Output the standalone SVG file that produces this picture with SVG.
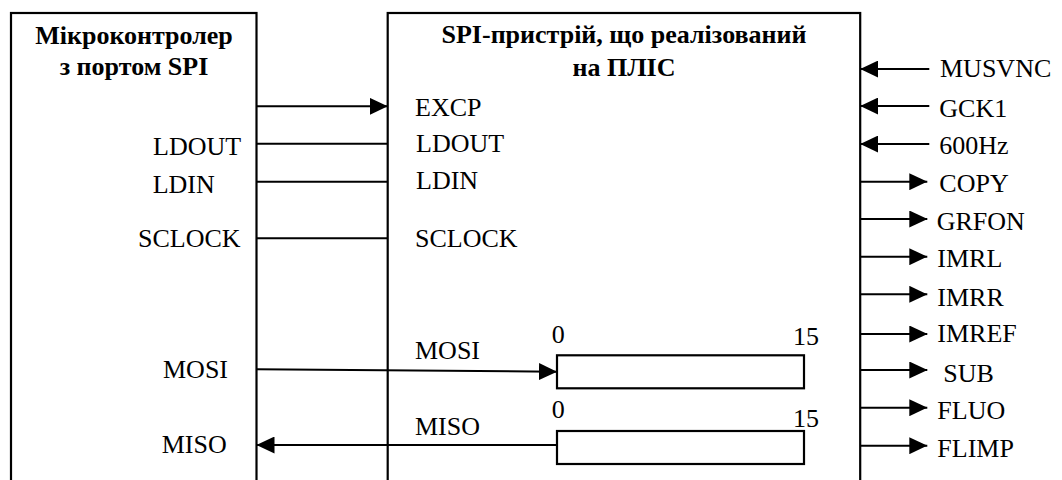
<svg xmlns="http://www.w3.org/2000/svg" width="1062" height="480" viewBox="0 0 1062 480">
<style>
.box{fill:#fff;stroke:#000;stroke-width:2.2}
.ln{fill:none;stroke:#000;stroke-width:2}
.t{font-family:"Liberation Serif","Times New Roman",serif;font-size:26px;fill:#000}
.b{font-family:"Liberation Serif","Times New Roman",serif;font-size:26px;font-weight:bold;fill:#000;text-anchor:middle}
</style>
<defs>
<marker id="ah" markerUnits="userSpaceOnUse" markerWidth="18" markerHeight="17" refX="18" refY="8.5" orient="auto">
<path d="M0,0 L18,8.5 L0,17 z" fill="#000"/>
</marker>
</defs>
<rect width="1062" height="480" fill="#fff"/>
<g id="microcontroller">
<rect class="box" x="11" y="13" width="245.5" height="480"/>
<text class="b" x="134" y="44">Мікроконтролер</text>
<text class="b" x="134" y="75">з портом SPI</text>
<text class="t" x="153" y="155">LDOUT</text>
<text class="t" x="152.7" y="192.5">LDIN</text>
<text class="t" x="138" y="247.3">SCLOCK</text>
<text class="t" x="163" y="378.3">MOSI</text>
<text class="t" x="161.7" y="453.3">MISO</text>
</g>
<g id="fpga">
<rect class="box" x="387.7" y="13" width="472.5" height="480"/>
<text class="b" x="624" y="43.3">SPI-пристрій, що реалізований</text>
<text class="b" x="624" y="76">на ПЛІС</text>
<text class="t" x="415" y="116">EXCP</text>
<text class="t" x="416" y="151.7">LDOUT</text>
<text class="t" x="416" y="189.3">LDIN</text>
<text class="t" x="415" y="247.3">SCLOCK</text>
<text class="t" x="415" y="359.3">MOSI</text>
<text class="t" x="415" y="435">MISO</text>
</g>
<g id="mosi-register">
<rect class="box" x="557" y="355.3" width="247" height="33"/>
<text class="t" x="551.7" y="343.3">0</text>
<text class="t" x="793" y="345">15</text>
</g>
<g id="miso-register">
<rect class="box" x="557" y="431" width="247" height="33"/>
<text class="t" x="551.7" y="418.3">0</text>
<text class="t" x="793" y="426.7">15</text>
</g>
<g id="connectors">
<line class="ln" x1="256.5" y1="106.3" x2="387.7" y2="106.3" marker-end="url(#ah)"/>
<line class="ln" x1="256.5" y1="143.7" x2="387.7" y2="143.7"/>
<line class="ln" x1="256.5" y1="181.7" x2="387.7" y2="181.7"/>
<line class="ln" x1="256.5" y1="238.3" x2="387.7" y2="238.3"/>
<line class="ln" x1="256.5" y1="369.3" x2="557" y2="371.7" marker-end="url(#ah)"/>
<line class="ln" x1="557" y1="445" x2="256.5" y2="445" marker-end="url(#ah)"/>
<line class="ln" x1="929.3" y1="69" x2="860.2" y2="69" marker-end="url(#ah)"/>
<line class="ln" x1="929.3" y1="106" x2="860.2" y2="106" marker-end="url(#ah)"/>
<line class="ln" x1="929.3" y1="144" x2="860.2" y2="144" marker-end="url(#ah)"/>
<line class="ln" x1="860.2" y1="181.7" x2="927.3" y2="181.7" marker-end="url(#ah)"/>
<line class="ln" x1="860.2" y1="219" x2="927.3" y2="219" marker-end="url(#ah)"/>
<line class="ln" x1="860.2" y1="256.7" x2="927.3" y2="256.7" marker-end="url(#ah)"/>
<line class="ln" x1="860.2" y1="294.3" x2="927.3" y2="294.3" marker-end="url(#ah)"/>
<line class="ln" x1="860.2" y1="334" x2="927.3" y2="334" marker-end="url(#ah)"/>
<line class="ln" x1="860.2" y1="370" x2="927.3" y2="370" marker-end="url(#ah)"/>
<line class="ln" x1="860.2" y1="407.7" x2="927.3" y2="407.7" marker-end="url(#ah)"/>
<line class="ln" x1="860.2" y1="445.7" x2="927.3" y2="445.7" marker-end="url(#ah)"/>
</g>
<g id="signal-labels">
<text class="t" x="940" y="77.3">MUSVNC</text>
<text class="t" x="939.3" y="117">GCK1</text>
<text class="t" x="939.3" y="154">600Hz</text>
<text class="t" x="939.3" y="191.7">COPY</text>
<text class="t" x="936.7" y="230">GRFON</text>
<text class="t" x="937.3" y="266.7">IMRL</text>
<text class="t" x="937.3" y="306">IMRR</text>
<text class="t" x="937.3" y="342.3">IMREF</text>
<text class="t" x="943.3" y="382.3">SUB</text>
<text class="t" x="937.3" y="419.3">FLUO</text>
<text class="t" x="937.3" y="456.7">FLIMP</text>
</g>
</svg>
